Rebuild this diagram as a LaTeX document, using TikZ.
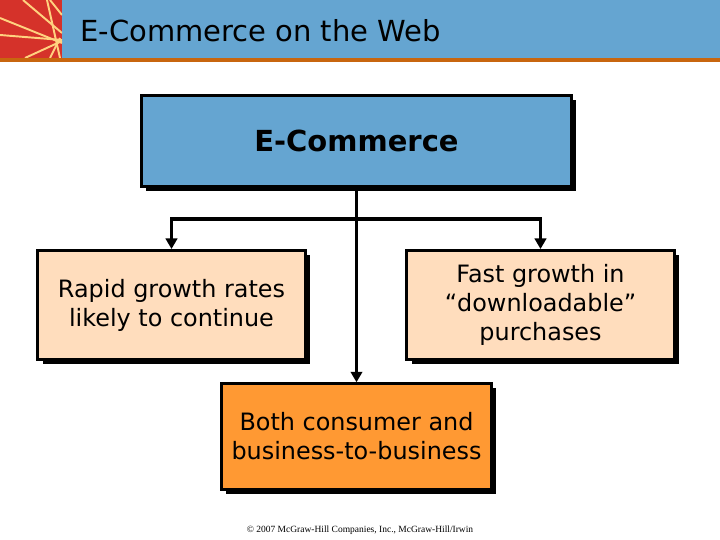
\documentclass[tikz,border=0pt]{standalone}
\usepackage{fontspec}
\setmainfont{DejaVu Sans}
\newfontfamily\footfont{Liberation Serif}
\usetikzlibrary{shadows,arrows.meta}
\definecolor{headblue}{HTML}{65A5D1}
\definecolor{headred}{HTML}{D5322A}
\definecolor{headline}{HTML}{FFD27F}
\definecolor{headstripe}{HTML}{C8660F}
\definecolor{peach}{HTML}{FFDDBD}
\definecolor{boxorange}{HTML}{FF9933}
\tikzset{
  boxbase/.style={draw=black,line width=1.7pt,inner sep=0pt,align=center,
    text height=,font=\fontsize{13.6}{16.5}\selectfont,
    drop shadow={shadow xshift=2.6pt,shadow yshift=-2.6pt,fill=black,opacity=1}},
  peachbox/.style={boxbase,fill=peach,minimum width=152pt,minimum height=62pt},
  link/.style={line width=1.9pt,-{Triangle[length=6pt,width=6.5pt]}},
  rayline/.style={headline,line width=1.1pt}
}
\begin{document}
\begin{tikzpicture}[x=0.02cm,y=-0.02cm]
\useasboundingbox (0,0) rectangle (720,540);
\fill[white] (0,0) rectangle (720,540);
\fill[headblue] (62,0) rectangle (720,58);
\fill[headred] (0,0) rectangle (62,58);
\begin{scope}
\clip (0,0) rectangle (62,58);
\draw[rayline] (23,0) -- (62,33);
\draw[rayline] (47,0) -- (60,58);
\draw[rayline] (50,0) -- (62,15);
\draw[rayline] (0,18) -- (62,43);
\draw[rayline] (0,35) -- (62,40);
\draw[rayline] (25,58) -- (62,41);
\draw[rayline] (50,58) -- (60,38);
\end{scope}
\fill[headstripe] (0,58) rectangle (720,62);
\node[anchor=west,inner sep=0pt,font=\fontsize{16.5}{20}\selectfont] (title) at (80,31) {E-Commerce on the Web};

\node[boxbase,fill=headblue,minimum width=245pt,minimum height=52pt,font=\fontsize{16.5}{20}\bfseries\selectfont] (ecommerce) at (356.5,141) {E-Commerce};
\node[peachbox] (rapid) at (171.5,305) {Rapid growth rates\\likely to continue};
\node[peachbox] (fast) at (540.5,305) {Fast growth in\\“downloadable”\\purchases};
\node[boxbase,fill=boxorange,minimum width=154pt,minimum height=60pt] (both) at (356.5,436.5) {Both consumer and\\business-to-business};

\coordinate (branch) at (356.5,219);
\draw[link] (ecommerce.south) -- (both.north);
\draw[link] (branch) -| (rapid.north);
\draw[link] (branch) -| (fast.north);

\node[inner sep=0pt,font=\footfont\fontsize{5.4}{6.5}\selectfont] (copyright) at (360,530) {© 2007 McGraw-Hill Companies, Inc., McGraw-Hill/Irwin};
\end{tikzpicture}
\end{document}
